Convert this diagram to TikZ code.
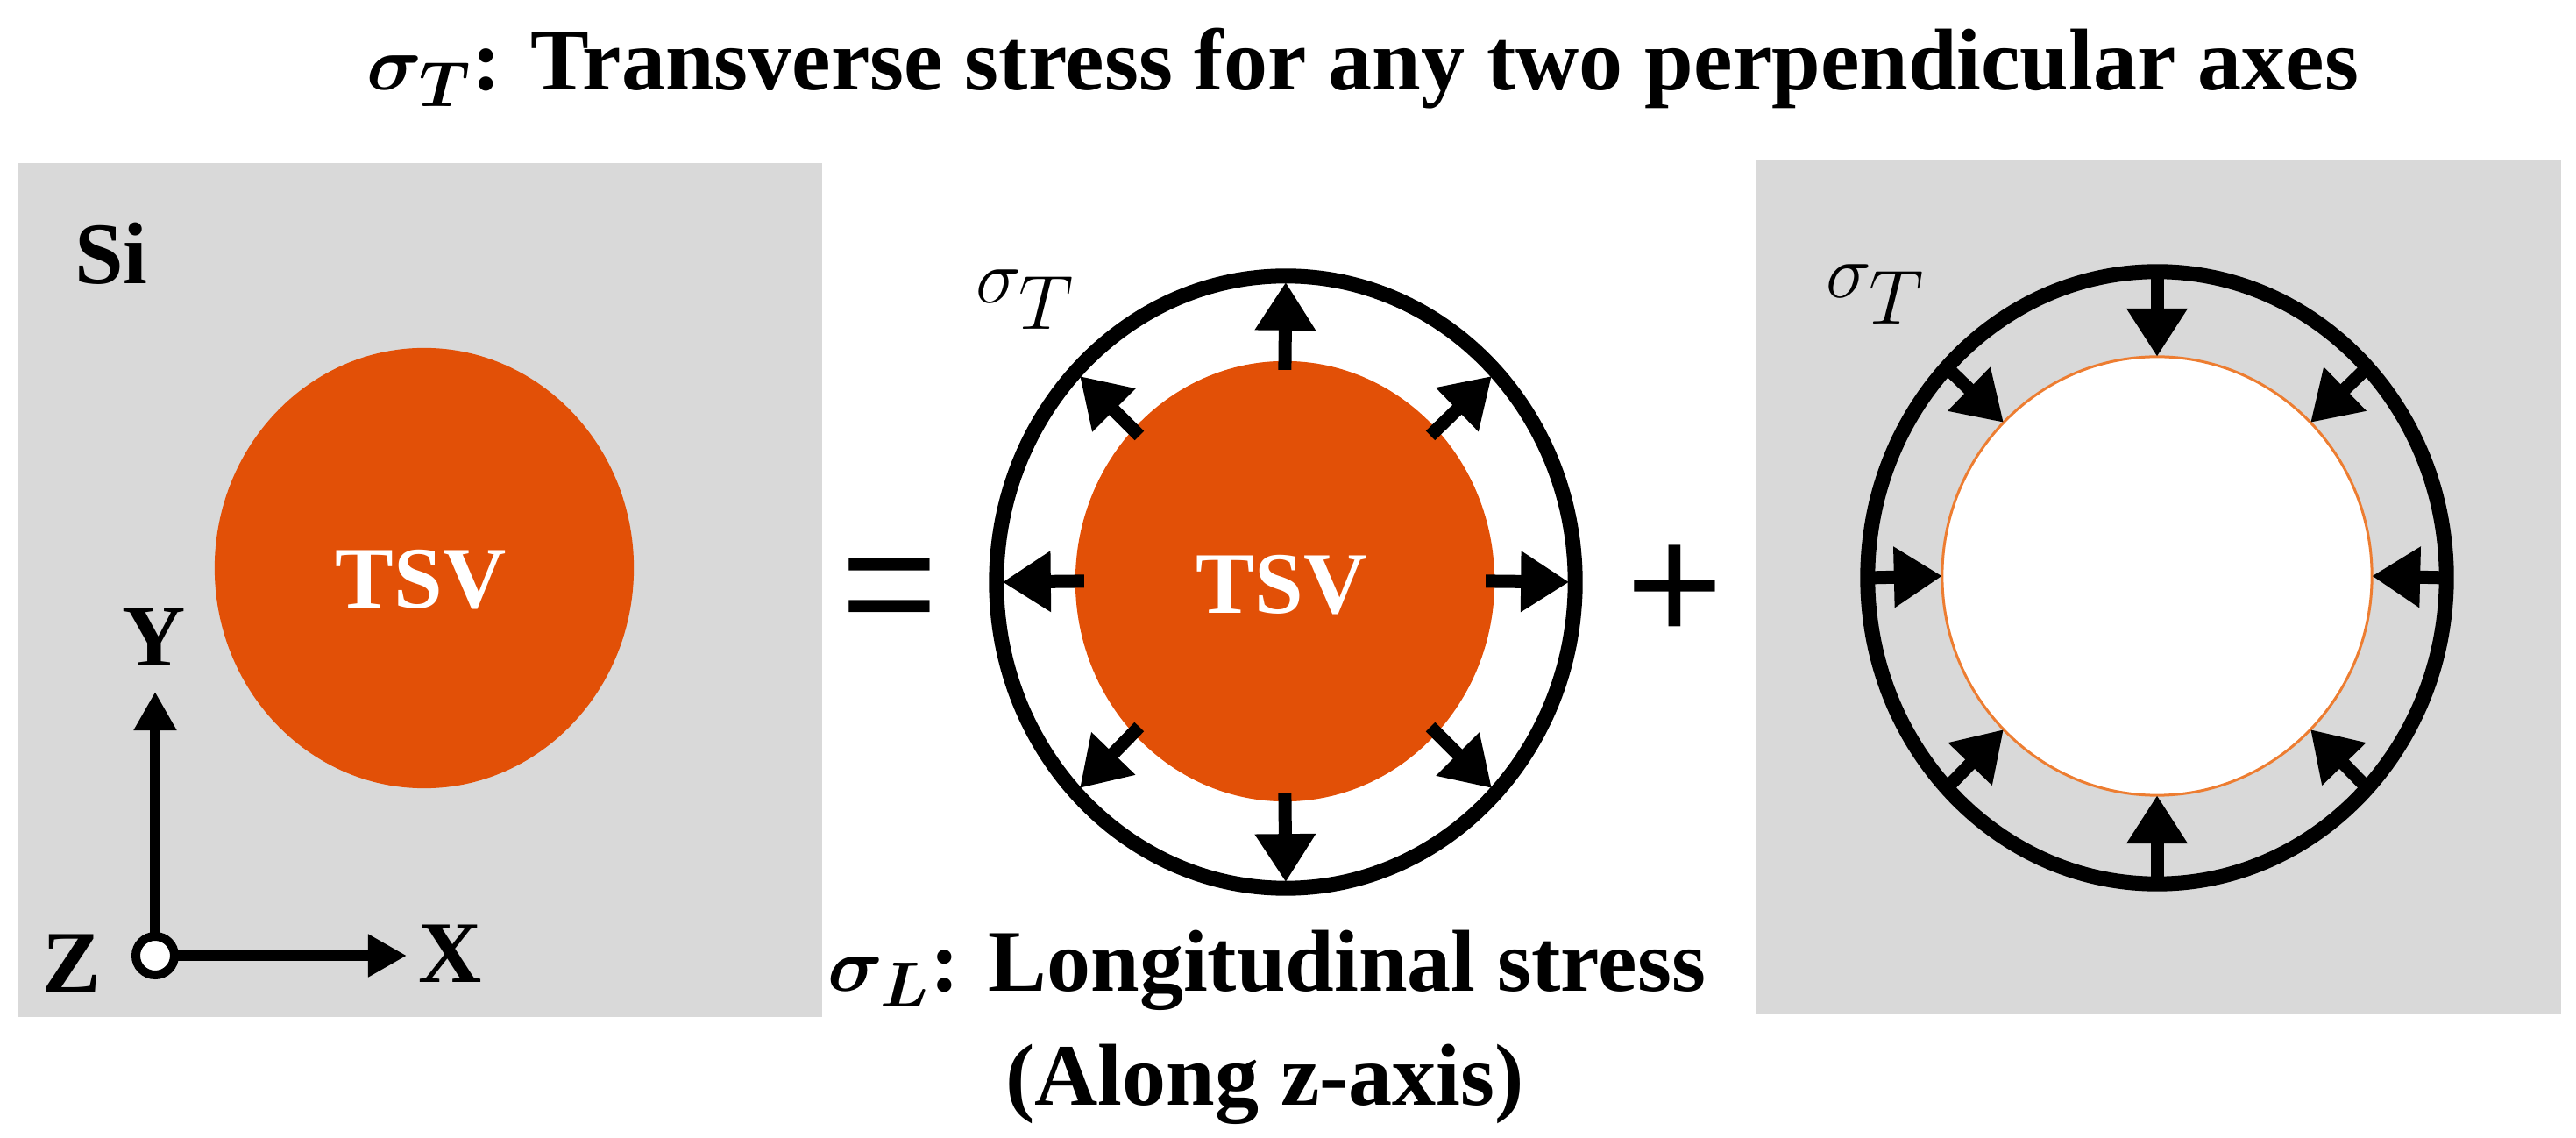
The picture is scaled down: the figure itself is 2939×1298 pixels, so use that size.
\documentclass[tikz,border=0pt]{standalone}
\usepackage{fontspec}
\setmainfont{Liberation Serif}
\newfontfamily\opfont{Liberation Sans}
\usetikzlibrary{arrows.meta,shapes.geometric}
\definecolor{sigray}{RGB}{217,217,217}
\definecolor{tsvorange}{RGB}{226,80,7}
\definecolor{holeline}{RGB}{237,125,49}
\begin{document}
\begin{tikzpicture}[x=0.01cm,y=-0.01cm,
  panel/.style={fill=sigray,draw=none},
  txt/.style={font=\fontsize{28.45}{34}\selectfont\bfseries\boldmath,inner sep=0pt,anchor=base},
  sig/.style={font=\fontsize{33.5}{38}\selectfont,inner sep=0pt,anchor=base west},
  opsym/.style={font=\opfont\fontsize{54}{60}\selectfont,inner sep=0pt,anchor=base},
  tsvdisk/.style={ellipse,fill=tsvorange,draw=none,minimum width=4.78cm,minimum height=5.02cm,inner sep=0pt,outer sep=0pt},
  ring/.style={ellipse,draw=black,line width=0.17cm,minimum width=6.6cm,minimum height=6.98cm,inner sep=0pt,outer sep=0pt},
  hole/.style={ellipse,draw=holeline,fill=white,line width=0.03cm,minimum width=4.9cm,minimum height=5.0cm,inner sep=0pt,outer sep=0pt},
  outarrow/.style={line width=0.15cm,-{Triangle[length=0.55cm,width=0.66cm]},shorten >=0.07cm,shorten <=-0.1cm},
  inarrow/.style={line width=0.15cm,-{Triangle[length=0.55cm,width=0.66cm]}},
  axarrow/.style={line width=0.12cm,-{Triangle[length=0.44cm,width=0.46cm]}}
]
\useasboundingbox (0,0) rectangle (2939,1298);
% panels
\path[panel] (20,186) rectangle (938,1160);
\path[panel] (2003,182) rectangle (2922,1156);
% title
\node[txt] (title) at (1555,103) {$\sigma_T$: Transverse stress for any two perpendicular axes};
% left panel
\node[txt] (si) at (127,324) {Si};
\node[tsvdisk] (tsvL) at (484,648) {};
\node[txt,text=white] (tsvLtxt) at (480,694) {TSV};
\coordinate (ytip) at (177,789);
\coordinate (xtip) at (464,1090);
\node[circle,draw=black,fill=white,line width=0.10cm,minimum size=0.44cm,inner sep=0pt,outer sep=0pt] (zo) at (177,1090) {};
\draw[axarrow] (zo) -- (ytip);
\draw[axarrow] (zo) -- (xtip);
\node[txt] (ylab) at (176,760) {Y};
\node[txt] (xlab) at (514,1120) {X};
\node[txt] (zlab) at (82,1131) {Z};
% equals and plus
\node[opsym] (eq) at (1015,731) {=};
\node[opsym] (plus) at (1911,732) {+};
% middle
\node[ring] (ringM) at (1467,664) {};
\node[tsvdisk] (tsvM) at (1466,663) {};
\node[txt,text=white] (tsvMtxt) at (1462,700) {TSV};
\foreach \a in {0,45,...,315} {
  \draw[outarrow] (tsvM.\a) -- (ringM.\a);
}
\node[sig] (sigM) at (1113,346) {$\sigma_T$};
% bottom text
\node[txt] (sub1) at (1445,1130) {$\sigma_L$: Longitudinal stress};
\node[txt] (sub2) at (1443,1260) {(Along z-axis)};
% right
\node[ring] (ringR) at (2461,659) {};
\node[hole] (holeR) at (2461,657) {};
\foreach \a in {0,45,...,315} {
  \draw[inarrow] (ringR.\a) -- (holeR.\a);
}
\node[sig] (sigR) at (2083,340) {$\sigma_T$};
\end{tikzpicture}
\end{document}
